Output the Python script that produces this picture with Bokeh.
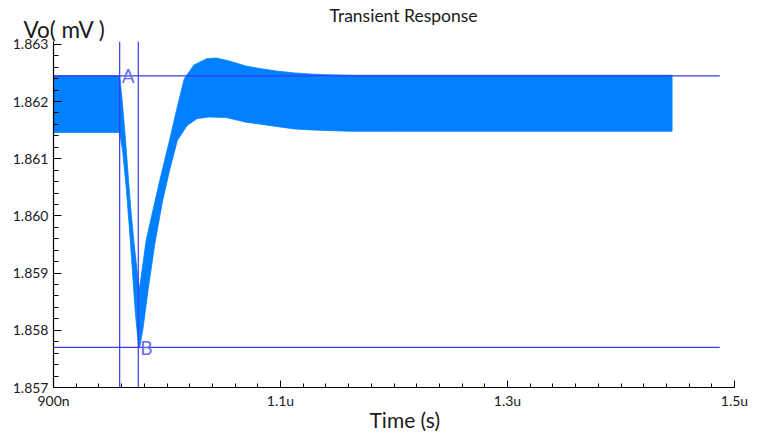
from bokeh.plotting import figure
from bokeh.models import Range1d, FixedTicker, Label, Title, PrintfTickFormatter
from bokeh.embed import file_html
from bokeh.resources import INLINE

# ---- data (time in ns, Vo in the chart's units) ----
t_upper = [900.0, 958.3, 960.9, 963.5, 966.1, 968.6, 971.2, 973.8, 975.5,
           979.0, 981.6, 985.9, 993.6, 1002.2, 1009.1, 1015.2, 1023.8, 1035.0, 1043.6,
           1054.8, 1069.5, 1084.1, 1097.9, 1112.5, 1127.1, 1140.9, 1164.2,
           1198.6, 1445.0]
v_upper = [1.86245, 1.86245, 1.86193, 1.86132, 1.86062, 1.86001, 1.85948, 1.85901, 1.85870,
           1.85919, 1.85957, 1.85995, 1.86062, 1.86132, 1.86191, 1.86240, 1.86264, 1.86275, 1.86276,
           1.86271, 1.86262, 1.86257, 1.86253, 1.86250, 1.86248, 1.86247, 1.86246,
           1.86246, 1.86246]

t_lower = [900.0, 958.3, 960.9, 964.3, 966.9, 969.5, 972.1, 974.7, 975.5,
           976.3, 979.0, 983.3, 989.3, 996.2, 1002.2, 1009.1, 1017.7, 1026.4, 1036.7,
           1052.2, 1069.5, 1084.1, 1097.9, 1112.5, 1132.3, 1161.6, 1198.6, 1445.0]
v_lower = [1.86146, 1.86146, 1.86114, 1.86044, 1.85978, 1.85905, 1.85831, 1.85777, 1.85770,
           1.85774, 1.85805, 1.85870, 1.85952, 1.86027, 1.86079, 1.86132, 1.86158, 1.86170, 1.86173,
           1.86172, 1.86164, 1.86160, 1.86156, 1.86152, 1.86150, 1.86148, 1.86148, 1.86148]

cursor_names = ["A", "B"]
cursor_t = [958.3, 974.7]
cursor_v = [1.86245, 1.85770]
cursor_line_end = 1487.0

x_ticks = [900, 1100, 1300, 1500]
x_tick_labels = ["900n", "1.1u", "1.3u", "1.5u"]
y_ticks = [1.857, 1.858, 1.859, 1.860, 1.861, 1.862, 1.863]

X_MIN, X_MAX = 900, 1500
Y_MIN, Y_MAX = 1.857, 1.86305

FONT = "Lato"
TXT = "#1a1a1a"
BAND = "#0080FF"
CURSOR = "#3a3af2"

p = figure(width=748, height=432,
           x_range=Range1d(X_MIN, X_MAX), y_range=Range1d(Y_MIN, Y_MAX),
           output_backend="svg", toolbar_location=None,
           min_border_left=53, min_border_right=14,
           min_border_top=41, min_border_bottom=45)
p.outline_line_color = None
p.xgrid.visible = False
p.ygrid.visible = False
p.background_fill_color = "white"
p.border_fill_color = "white"

# band (ripple envelope)
p.patch(x=t_upper + t_lower[::-1], y=v_upper + v_lower[::-1],
        fill_color=BAND, line_color=BAND, line_width=0.8)

# cursors
p.segment(x0=cursor_t, x1=cursor_t, y0=[Y_MIN] * 2, y1=[Y_MAX] * 2,
          line_color=CURSOR, line_width=1.2)
p.segment(x0=[X_MIN] * 2, x1=[cursor_line_end] * 2, y0=cursor_v, y1=cursor_v,
          line_color=CURSOR, line_width=1.2)
for name, tx, vy in zip(cursor_names, cursor_t, cursor_v):
    p.add_layout(Label(x=tx, y=vy, x_offset=2, text=name, text_font=FONT,
                       text_font_size="19px", text_color="#6b6bf5",
                       text_baseline="alphabetic"))

# y-axis title (horizontal, top left) and chart title
vo_title = Title(text="Vo( mV )", align="left", offset=-30, standoff=-3,
                 text_font=FONT, text_font_size="22.5px",
                 text_font_style="normal", text_color=TXT)
main_title = Title(text="Transient Response", align="left", offset=276,
                   standoff=-21, text_font=FONT, text_font_size="17.5px",
                   text_font_style="normal", text_color=TXT)
p.add_layout(vo_title, "above")
p.add_layout(main_title, "above")

# x-axis title
x_title = Title(text="Time (s)", align="left", offset=316, standoff=-10,
                vertical_align="top", text_font=FONT, text_font_size="21px",
                text_font_style="normal", text_color=TXT)
p.add_layout(x_title, "below")

# axes
xa = p.xaxis[0]
xa.ticker = FixedTicker(ticks=x_ticks, minor_ticks=list(range(X_MIN, X_MAX + 1, 20)))
xa.major_label_overrides = {t: s for t, s in zip(x_ticks, x_tick_labels)}
xa.major_tick_in = 7
xa.major_tick_out = 0
xa.minor_tick_in = 4
xa.minor_tick_out = 0
xa.major_label_standoff = 4

ya = p.yaxis[0]
ya.ticker = FixedTicker(ticks=y_ticks,
                        minor_ticks=[round(Y_MIN + i * 0.0002, 4) for i in range(31)])
ya.formatter = PrintfTickFormatter(format="%.3f")
ya.major_tick_in = 8
ya.major_tick_out = 0
ya.minor_tick_in = 5
ya.minor_tick_out = 0
ya.major_label_standoff = 5

for ax in (xa, ya):
    ax.axis_line_color = "black"
    ax.axis_line_width = 1.2
    ax.major_tick_line_color = "black"
    ax.minor_tick_line_color = "black"
    ax.major_label_text_font = FONT
    ax.major_label_text_font_size = "14px"
    ax.major_label_text_color = TXT

open("out.html", "w").write(file_html(p, INLINE))
